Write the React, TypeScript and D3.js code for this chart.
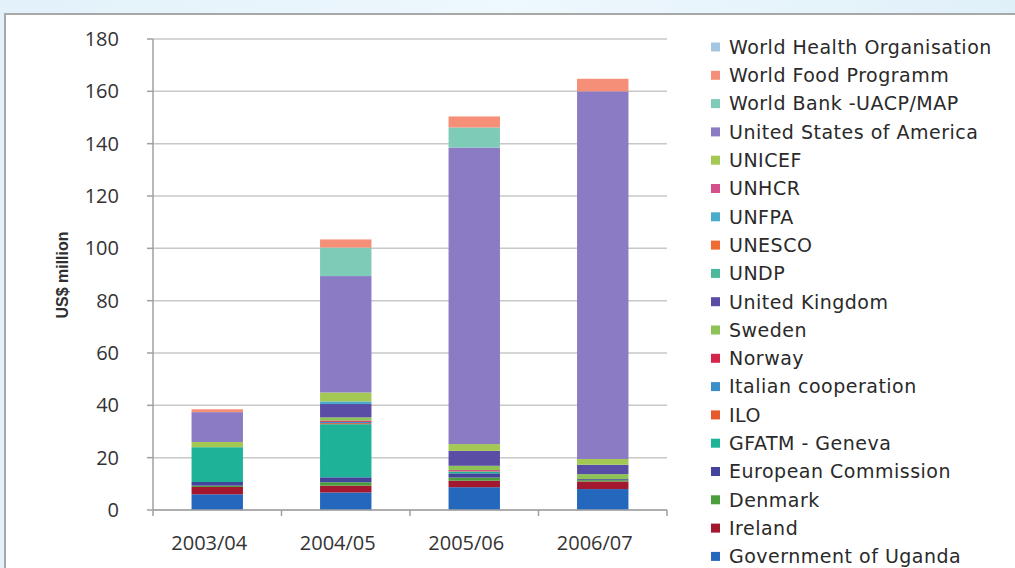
import React from "react";
import * as d3 from "d3";

const categories = ["2003/04", "2004/05", "2005/06", "2006/07"];

// series in stacking order (bottom first)
const seriesNames = [
  "Government of Uganda",
  "Ireland",
  "Denmark",
  "European Commission",
  "GFATM - Geneva",
  "ILO",
  "Italian cooperation",
  "Norway",
  "Sweden",
  "United Kingdom",
  "UNDP",
  "UNESCO",
  "UNFPA",
  "UNHCR",
  "UNICEF",
  "United States of America",
  "World Bank -UACP/MAP",
  "World Food Programm",
  "World Health Organisation",
];

const seriesColors = [
  "#2468BE", "#A3172F", "#4A9E3C", "#44449C", "#1EB399", "#E5592C", "#3B8FC9",
  "#D4264B", "#8DC254", "#5A4DA6", "#4DB89B", "#F06A34", "#4AABCB", "#D5508A",
  "#A3C853", "#8A7BC4", "#7ECBB8", "#F58F77", "#A3C6E3",
];

const governmentOfUganda = [6.0, 6.7, 8.7, 8.0];
const ireland = [2.8, 2.6, 2.5, 2.9];
const denmark = [0.5, 1.3, 1.2, 0.5];
const europeanCommission = [1.4, 1.9, 1.6, 0.4];
const gfatm = [13.3, 20.3, 0.6, 0];
const ilo = [0, 0.4, 0.2, 0];
const italianCooperation = [0, 0.5, 0.2, 0];
const norway = [0, 0.5, 0.3, 0];
const sweden = [0, 1.2, 1.6, 1.9];
const unitedKingdom = [0, 5.1, 5.7, 3.6];
const undp = [0, 0, 0, 0];
const unesco = [0, 0, 0, 0];
const unfpa = [0, 1.0, 0, 0];
const unhcr = [0, 0, 0, 0];
const unicef = [2.0, 3.4, 2.6, 2.2];
const usa = [11.4, 44.5, 113.3, 140.5];
const worldBank = [0, 10.9, 7.7, 0];
const worldFoodProgramm = [1.1, 3.1, 4.2, 4.8];
const whoValues = [0, 0, 0, 0];

const seriesValues = [
  governmentOfUganda, ireland, denmark, europeanCommission, gfatm, ilo,
  italianCooperation, norway, sweden, unitedKingdom, undp, unesco, unfpa,
  unhcr, unicef, usa, worldBank, worldFoodProgramm, whoValues,
];

const yTicks = [0, 20, 40, 60, 80, 100, 120, 140, 160, 180];

export default function App() {
  const W = 1015;
  const H = 568;
  const x0 = 153, x1 = 667, yBottom = 510, yTop = 39;

  const x = d3.scaleBand<string>().domain(categories).range([x0, x1]).paddingInner(0.6).paddingOuter(0.3);
  const y = d3.scaleLinear().domain([0, 180]).range([yBottom, yTop]);

  const rows = categories.map((c, i) => {
    const r: any = { cat: c };
    seriesNames.forEach((s, j) => (r[s] = seriesValues[j][i]));
    return r;
  });
  const stacked = d3.stack<any>().keys(seriesNames)(rows);

  const boundaries = d3.range(categories.length + 1).map((i) => x0 + i * ((x1 - x0) / categories.length));

  const legendItems = [...seriesNames].map((n, i) => ({ n, c: seriesColors[i] })).reverse();
  const font = "'Open Sans', 'DejaVu Sans', sans-serif";
  const legendFont = "'DejaVu Sans', 'Open Sans', sans-serif";

  return (
    <div style={{ position: "absolute", left: 0, top: 0 }}>
      <svg width={W} height={H} style={{ display: "block" }}>
        <defs>
          <linearGradient id="bg" x1="0" y1="0" x2="1" y2="0">
            <stop offset="0" stopColor="#E2F1FA" />
            <stop offset="0.5" stopColor="#EEF8FD" />
            <stop offset="1" stopColor="#E0F0F9" />
          </linearGradient>
        </defs>
        <rect x={0} y={0} width={W} height={H} fill="url(#bg)" />
        <rect x={5} y={14} width={W} height={H} fill="#FFFFFF" stroke="#A8A8A8" strokeWidth={2} />

        {/* gridlines */}
        {yTicks.map((t) => (
          <line key={"g" + t} x1={x0} x2={x1} y1={y(t)} y2={y(t)} stroke="#C8C8C8" strokeWidth={1.5} />
        ))}

        {/* bars */}
        {stacked.map((layer, j) => (
          <g key={"s" + j} fill={seriesColors[j]}>
            {layer.map((d, i) => {
              const h = y(d[0]) - y(d[1]);
              if (h <= 0) return null;
              return (
                <rect key={i} x={x(categories[i])} y={y(d[1])} width={x.bandwidth()} height={h} />
              );
            })}
          </g>
        ))}

        {/* axes */}
        <line x1={x0} x2={x0} y1={yTop} y2={yBottom} stroke="#A0A0A0" strokeWidth={1.5} />
        <line x1={x0} x2={x1} y1={yBottom} y2={yBottom} stroke="#A0A0A0" strokeWidth={1.5} />
        {yTicks.map((t) => (
          <g key={"t" + t}>
            <line x1={x0 - 6} x2={x0} y1={y(t)} y2={y(t)} stroke="#A0A0A0" strokeWidth={1.5} />
            <text x={119} y={y(t)} dy="0.35em" textAnchor="end" fontFamily={font} fontSize={20} fontWeight={500} fill="#333333">
              {t}
            </text>
          </g>
        ))}
        {boundaries.map((b, i) => (
          <line key={"b" + i} x1={b} x2={b} y1={yBottom} y2={yBottom + 6} stroke="#A0A0A0" strokeWidth={1.5} />
        ))}
        {categories.map((c) => (
          <text key={c} x={(x(c) as number) + x.bandwidth() / 2 - 8} y={550} textAnchor="middle" fontFamily={font} fontSize={20} fontWeight={500} fill="#333333">
            {c}
          </text>
        ))}
        <text transform="translate(68,275) rotate(-90)" textAnchor="middle" fontFamily="'Liberation Sans Narrow', 'Liberation Sans', sans-serif" fontWeight="bold" fontSize={16} fill="#303030">
          US$ million
        </text>

        {/* legend */}
        {legendItems.map((it, i) => {
          const cy = 47 + i * 28.3;
          return (
            <g key={it.n}>
              <rect x={711} y={cy - 4.5} width={9} height={9} fill={it.c} />
              <text x={729} y={cy} dy="0.36em" fontFamily={legendFont} fontSize={19} letterSpacing={0.5} fill="#2A2A2A">
                {it.n}
              </text>
            </g>
          );
        })}
      </svg>
    </div>
  );
}
